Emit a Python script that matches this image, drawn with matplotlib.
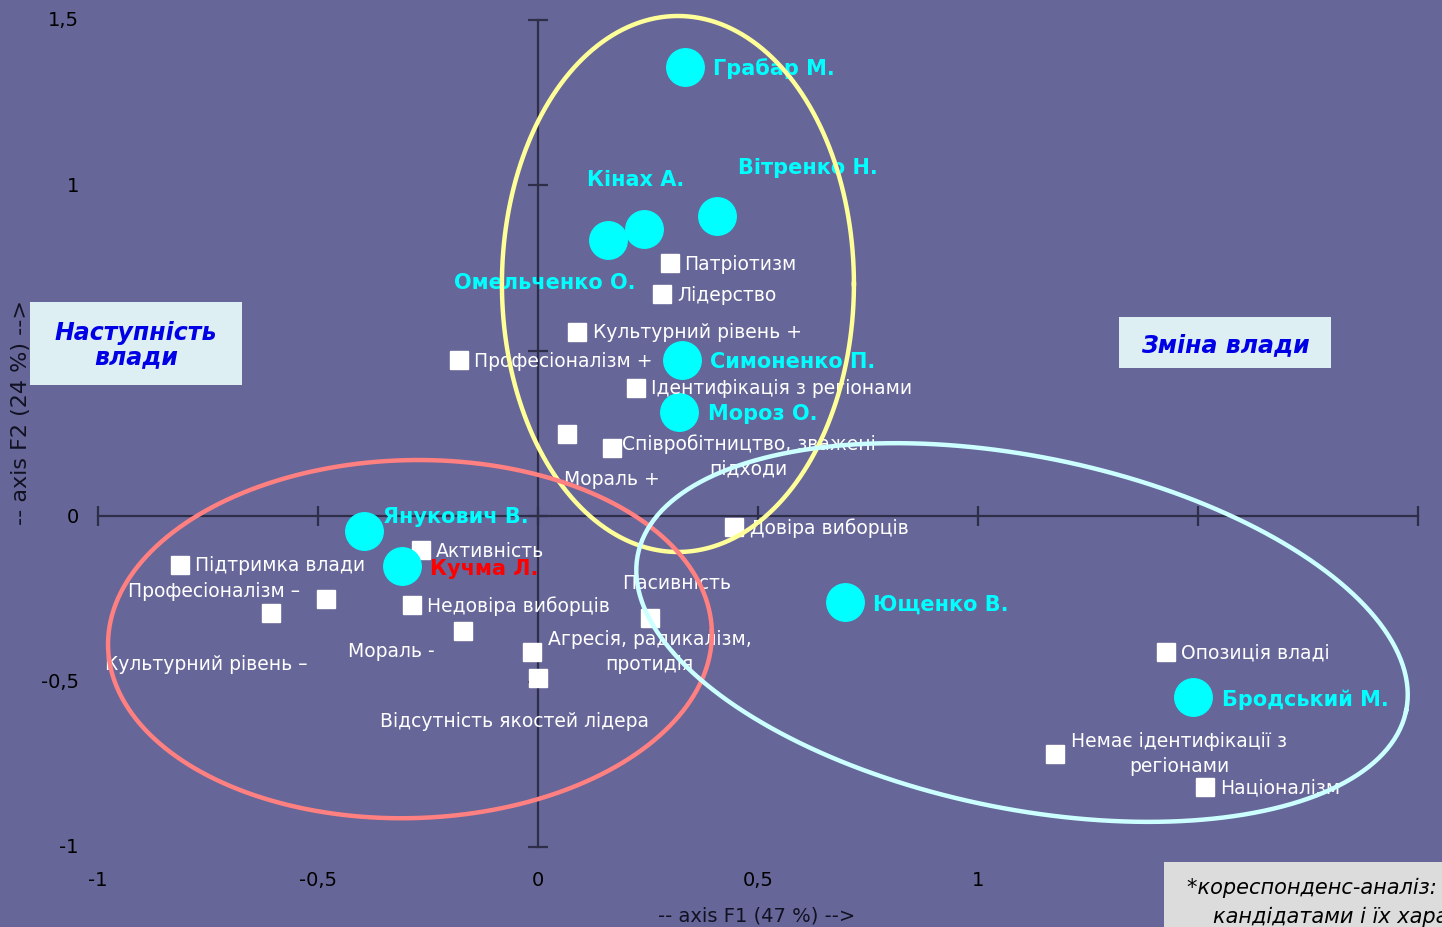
import numpy as np
import matplotlib
matplotlib.use("Agg")
import matplotlib.pyplot as plt
from matplotlib.patches import Rectangle

# candidates (cyan circles)
cand_names = ["Грабар М.", "Кінах А.", "Омельченко О.", "Вітренко Н.", "Симоненко П.",
              "Мороз О.", "Янукович В.", "Кучма Л.", "Ющенко В.", "Бродський М."]
cand_x = [0.334, 0.241, 0.159, 0.407, 0.327, 0.320, -0.395, -0.309, 0.698, 1.489]
cand_y = [1.356, 0.867, 0.834, 0.906, 0.471, 0.314, -0.045, -0.151, -0.260, -0.547]

# characteristics (white squares)
attr_names = ["Патріотизм", "Лідерство", "Культурний рівень +", "Професіоналізм +",
              "Ідентифікація з регіонами", "Мораль +", "Співробітництво, зважені\nпідходи",
              "Довіра виборців", "Пасивність", "Агресія, радикалізм,\nпротидія",
              "Відсутність якостей лідера", "Активність", "Підтримка влади",
              "Професіоналізм –", "Культурний рівень –", "Недовіра виборців", "Мораль -",
              "Опозиція владі", "Немає ідентифікації з\nрегіонами", "Націоналізм"]
attr_x = [0.300, 0.282, 0.089, -0.180, 0.223, 0.066, 0.168, 0.445, 0.255, -0.014,
          0.000, -0.266, -0.814, -0.482, -0.607, -0.286, -0.170, 1.427, 1.175, 1.516]
attr_y = [0.764, 0.671, 0.556, 0.471, 0.387, 0.248, 0.205, -0.033, -0.308, -0.411,
          -0.489, -0.103, -0.148, -0.251, -0.293, -0.269, -0.347, -0.411, -0.719, -0.819]

xticks = [-1, -0.5, 0, 0.5, 1, 1.5, 2]
xtick_labels = ["-1", "-0,5", "0", "0,5", "1", "", ""]
yticks = [-1, -0.5, 0, 0.5, 1, 1.5]
ytick_labels = ["-1", "-0,5", "0", "", "1", "1,5"]

# label offsets in pixels (dx, dy, ha)
cand_off = [(28, 0, "left"), (-8, 50, "center"), (-63, -42, "center"), (91, 49, "center"),
            (28, -1, "left"), (29, -1, "left"), (19, 15, "left"), (28, -2, "left"),
            (28, -2, "left"), (29, -2, "left")]
attr_off = [(14, 0, "left"), (15, -1, "left"), (16, 0, "left"), (15, 0, "left"),
            (15, 0, "left"), (45, -45, "center"), (10, -7, "left"), (16, 0, "left"),
            (26, 35, "center"), (16, 1, "left"), (-23, -43, "center"), (15, 0, "left"),
            (15, 0, "left"), (-26, 9, "right"), (-65, -51, "center"), (15, 0, "left"),
            (-72, -20, "center"), (15, 0, "left"), (16, 1, "left"), (15, 0, "left")]

BG = "#666699"
AXC = "#2e2e48"

fig = plt.figure(figsize=(14.42, 9.28), dpi=100, facecolor=BG)
ax = fig.add_axes([0, 0, 1, 1])
ax.set_facecolor(BG)
ax.set_xlim(-1.2227, 2.0545)
ax.set_ylim(-1.2417, 1.562)
ax.axis("off")

# axes through origin with cross ticks
ax.plot([-1, 2], [0, 0], color=AXC, lw=1.6, zorder=1)
ax.plot([0, 0], [-1, 1.5], color=AXC, lw=1.6, zorder=1)
ax.plot(xticks, [0] * len(xticks), ls="none", marker="|", ms=14, mew=1.6, color=AXC, zorder=1)
ax.plot([0] * len(yticks), yticks, ls="none", marker="_", ms=14, mew=1.6, color=AXC, zorder=1)
for x, lab in zip(xticks, xtick_labels):
    ax.annotate(lab, (x, -1), xytext=(0, -33), textcoords="offset pixels",
                ha="center", va="center", fontsize=14, color="black")
for y, lab in zip(yticks, ytick_labels):
    ax.annotate(lab, (-1, y), xytext=(-19, 0), textcoords="offset pixels",
                ha="right", va="center", fontsize=14, color="black")

ax.text(0.5245, 0.013, "-- axis F1 (47 %) -->", transform=ax.transAxes,
        ha="center", va="center", fontsize=14, color="#111122")
ax.text(0.0145, 0.555, "-- axis F2 (24 %) -->", transform=ax.transAxes, rotation=90,
        ha="center", va="center", fontsize=16, color="#111122")

# squares
ax.plot(attr_x, attr_y, ls="none", marker="s", ms=12.5, color="white", zorder=3)
for x, y, name, (dx, dy, ha) in zip(attr_x, attr_y, attr_names, attr_off):
    ax.annotate(name, (x, y), xytext=(dx, dy), textcoords="offset pixels", ha=ha,
                va="center", multialignment="center", fontsize=13.5, color="white",
                linespacing=1.35, zorder=4)

# circles
ax.plot(cand_x, cand_y, ls="none", marker="o", ms=27, color="#00ffff", zorder=3)
for x, y, name, (dx, dy, ha) in zip(cand_x, cand_y, cand_names, cand_off):
    col = "#ff0000" if name.startswith("Кучма") else "#00ffff"
    ax.annotate(name, (x, y), xytext=(dx, dy), textcoords="offset pixels", ha=ha,
                va="center", fontsize=15, fontweight="bold", color=col, zorder=4)

# group ellipses: centre (data), semi-axes (pixels), angle (deg)
sx = 1442 / (2.0545 + 1.2227)
sy = 928 / (1.562 + 1.2417)
t = np.linspace(0, 2 * np.pi, 400)
for cx, cy, a, b, ang, col in [(0.318, 0.701, 176, 268, 0, "#ffff99"),
                               (-0.291, -0.372, 302, 179, 1.5, "#ff8080"),
                               (1.100, -0.352, 392, 176, -11.5, "#ccffff")]:
    th = np.radians(ang)
    u = a * np.cos(t) * np.cos(th) - b * np.sin(t) * np.sin(th)
    v = a * np.cos(t) * np.sin(th) + b * np.sin(t) * np.cos(th)
    ax.plot(cx + u / sx, cy + v / sy, color=col, lw=3.2, zorder=5)

# corner boxes
def box(x0, y0, w, h, color):
    ax.add_patch(Rectangle((x0 / 1442, 1 - (y0 + h) / 928), w / 1442, h / 928,
                           transform=ax.transAxes, facecolor=color, edgecolor="none", zorder=6))

box(30, 303, 212, 83, "#ddeff2")
ax.text(136 / 1442, 1 - 345 / 928, "Наступність\nвлади", transform=ax.transAxes, ha="center",
        va="center", fontsize=17, fontweight="bold", fontstyle="italic", color="#0000e6",
        linespacing=1.05, zorder=7)
box(1119, 318, 212, 51, "#ddeff2")
ax.text(1225 / 1442, 1 - 345 / 928, "Зміна влади", transform=ax.transAxes, ha="center",
        va="center", fontsize=17, fontweight="bold", fontstyle="italic", color="#0000e6", zorder=7)
box(1164, 863, 300, 80, "#dcdcdc")
ax.text(1187 / 1442, 1 - 888 / 928, "*кореспонденс-аналіз: зв'язок між", transform=ax.transAxes,
        ha="left", va="center", fontsize=15, fontstyle="italic", color="black", zorder=7)
ax.text(1213 / 1442, 1 - 917 / 928, "кандідатами і їх характеристиками", transform=ax.transAxes,
        ha="left", va="center", fontsize=15, fontstyle="italic", color="black", zorder=7)

fig.savefig("out.png", dpi=100, facecolor=BG)
